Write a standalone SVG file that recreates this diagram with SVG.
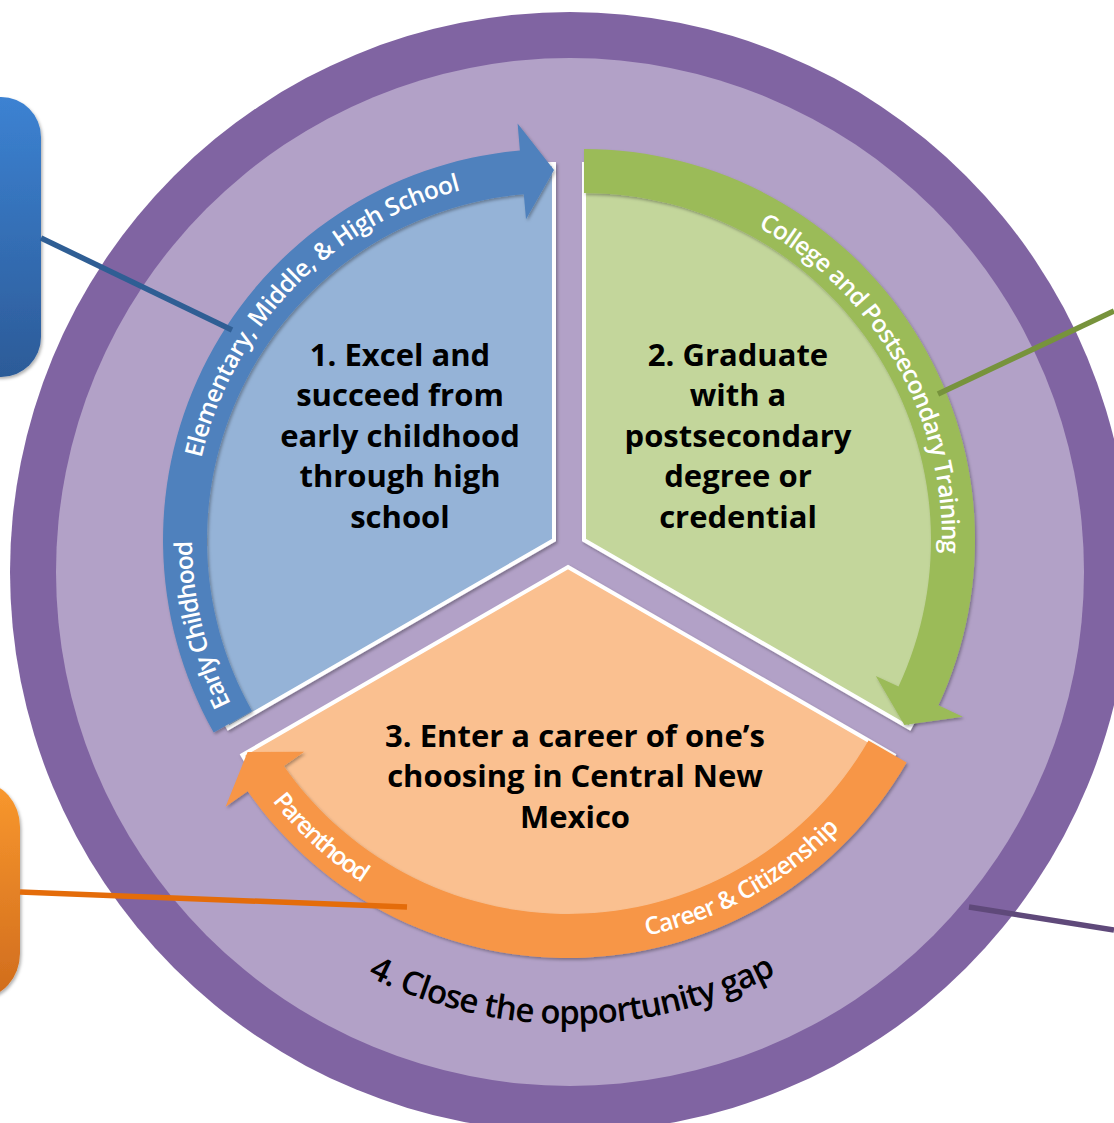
<svg xmlns="http://www.w3.org/2000/svg" width="1114" height="1123" viewBox="0 0 1114 1123">
<defs>
<style>
.lbl{font-family:'Open Sans','Liberation Sans',sans-serif;font-weight:700;font-size:31px;fill:#000;text-anchor:middle}
.band{font-family:'Open Sans','Liberation Sans',sans-serif;font-weight:600;font-size:24.5px;fill:#fff}
.gap{font-family:'Open Sans','Liberation Sans',sans-serif;font-weight:600;font-size:33px;fill:#000}
.wedge{stroke:#fff;stroke-width:4;stroke-linejoin:miter}
.conn{fill:none;stroke-width:5.5}
</style>
<linearGradient id="gBlue" x1="0" y1="0" x2="0" y2="1">
<stop offset="0" stop-color="#3c82d2"/><stop offset="1" stop-color="#2c5b98"/>
</linearGradient>
<linearGradient id="gOrange" x1="0" y1="0" x2="0" y2="1">
<stop offset="0" stop-color="#f9982e"/><stop offset="1" stop-color="#d06c1d"/>
</linearGradient>
<filter id="sh" x="-10%" y="-10%" width="120%" height="120%">
<feDropShadow dx="1.5" dy="2" stdDeviation="1.5" flood-color="#000" flood-opacity="0.3"/>
</filter>
<path id="tpBlue" d="M276.7,772.7 A362,362 0 0 1 541.4,178.2"/>
<path id="tpGreen" d="M646.2,187.4 A358,358 0 0 1 920.4,662.4"/>
<path id="tpOrange" d="M241.5,755.5 A377,377 0 0 0 894.5,755.5"/>
<path id="tpGap" d="M250.4,891.6 A452,452 0 0 0 889.6,891.6"/>
</defs>

<g id="ring">
<circle cx="570" cy="572" r="560" fill="#8064a2"/>
<circle cx="570" cy="572" r="514" fill="#b2a1c7"/>
<text class="gap"><textPath href="#tpGap" startOffset="145" textLength="424" lengthAdjust="spacing">4. Close the opportunity gap</textPath></text>
</g>

<g id="node-1">
<path class="wedge" filter="url(#sh)" fill="#95b3d7" d="M554,540 L228.4,728 A376,376 0 0 1 554,164 Z"/>
<path filter="url(#sh)" fill="#4f81bd" d="M213.7,732.5 A391,391 0 0 1 519.9,150.5 L517.6,123.6 L554,170 L526,219.2 L523.8,194.3 A347,347 0 0 0 252,710.9 Z"/>
<text class="band"><textPath href="#tpBlue" startOffset="83" textLength="169" lengthAdjust="spacing">Early Childhood</textPath></text>
<text class="band"><textPath href="#tpBlue" startOffset="335" textLength="392" lengthAdjust="spacing">Elementary, Middle, &amp; High School</textPath></text>
<text class="lbl" x="400" y="365.5">1. Excel and</text>
<text class="lbl" x="400" y="406">succeed from</text>
<text class="lbl" x="400" y="446.5">early childhood</text>
<text class="lbl" x="400" y="487">through high</text>
<text class="lbl" x="400" y="527.5">school</text>
</g>

<g id="node-2">
<path class="wedge" filter="url(#sh)" fill="#c3d69b" d="M584,540 L584,164 A376,376 0 0 1 909.6,728 Z"/>
<path filter="url(#sh)" fill="#9bbb59" d="M584,149 A391,391 0 0 1 938.4,705.2 L962.8,716.7 L904.4,725 L875.8,676.1 L898.5,686.6 A347,347 0 0 0 584,193 Z"/>
<text class="band"><textPath href="#tpGreen" startOffset="119" textLength="394" lengthAdjust="spacing">College and Postsecondary Training</textPath></text>
<text class="lbl" x="738" y="365.5">2. Graduate</text>
<text class="lbl" x="738" y="406">with a</text>
<text class="lbl" x="738" y="446.5">postsecondary</text>
<text class="lbl" x="738" y="487">degree or</text>
<text class="lbl" x="738" y="527.5">credential</text>
</g>

<g id="node-3">
<path class="wedge" filter="url(#sh)" fill="#fac090" d="M568,567 L893.6,755 A376,376 0 0 1 242.4,755 Z"/>
<path filter="url(#sh)" fill="#f79646" d="M906.6,762.5 A391,391 0 0 1 247.7,791.3 L225.6,806.8 L247.6,752 L304.2,751.7 L283.8,766 A347,347 0 0 0 868.5,740.5 Z"/>
<text class="band"><textPath href="#tpOrange" startOffset="55" textLength="122" lengthAdjust="spacing">Parenthood</textPath></text>
<text class="band"><textPath href="#tpOrange" startOffset="474" textLength="224" lengthAdjust="spacing">Career &amp; Citizenship</textPath></text>
<text class="lbl" x="575" y="746.5">3. Enter a career of one’s</text>
<text class="lbl" x="575" y="787">choosing in Central New</text>
<text class="lbl" x="575" y="827.5">Mexico</text>
</g>

<g id="box-blue">
<rect x="-40" y="97" width="81" height="280" rx="40" fill="url(#gBlue)" filter="url(#sh)"/>
</g>
<g id="box-orange">
<rect x="-60" y="782" width="80" height="216" rx="45" fill="url(#gOrange)" filter="url(#sh)"/>
</g>

<g id="connectors">
<line class="conn" stroke="#2f5e94" x1="41" y1="238" x2="232" y2="330"/>
<line class="conn" stroke="#77933c" x1="938" y1="394" x2="1114" y2="311"/>
<line class="conn" stroke="#e46c0a" x1="20" y1="892" x2="407" y2="907"/>
<line class="conn" stroke="#5f497a" x1="969" y1="907" x2="1114" y2="930"/>
</g>
</svg>
